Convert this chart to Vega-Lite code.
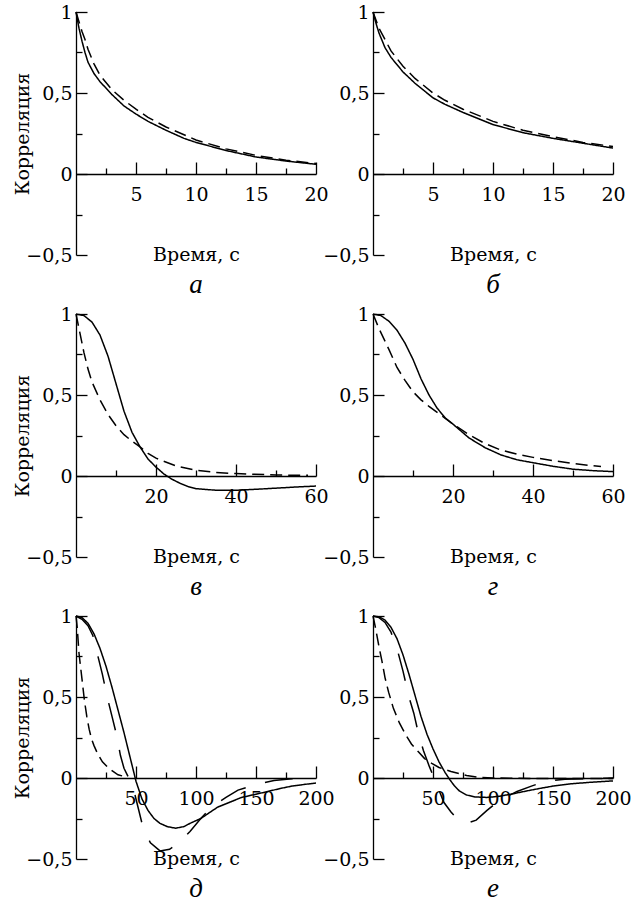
{
  "$schema": "https://vega.github.io/schema/vega-lite/v6.json",
  "background": "white",
  "padding": {"left": 13, "top": 3, "right": 0, "bottom": 0},
  "columns": 2,
  "spacing": {"row": 59, "column": 57},
  "bounds": "flush",
  "config": {
    "font": "DejaVu Serif",
    "view": {"stroke": null},
    "style": {"guide-label": {"font": "DejaVu Serif", "fontSize": 19}, "guide-title": {"font": "DejaVu Serif", "fontSize": 19}},
    "axis": {"grid": false, "domainColor": "black", "tickColor": "black", "labelColor": "black", "titleColor": "black",
      "labelFont": "DejaVu Serif", "titleFont": "DejaVu Serif", "labelFontSize": 19, "titleFontSize": 19,
      "titleFontWeight": "normal", "domainWidth": 1.3, "tickWidth": 1.3, "labelFlush": false, "labelOverlap": false, "labelAngle": 0},
    "title": {"font": "Times New Roman", "fontSize": 27, "fontStyle": "italic", "fontWeight": "normal", "orient": "bottom", "color": "black", "offset": 7, "anchor": "middle"},
    "line": {"color": "black", "strokeWidth": 1.5, "clip": false}
  },
  "datasets": {
    "a": [
      {"s":"solid","t":0,"r":1},{"s":"solid","t":0.25,"r":0.9},{"s":"solid","t":0.5,"r":0.82},{"s":"solid","t":0.75,"r":0.75},{"s":"solid","t":1,"r":0.69},{"s":"solid","t":1.5,"r":0.62},{"s":"solid","t":2,"r":0.57},{"s":"solid","t":3,"r":0.49},{"s":"solid","t":4,"r":0.42},{"s":"solid","t":5,"r":0.37},{"s":"solid","t":6,"r":0.325},{"s":"solid","t":7.5,"r":0.27},{"s":"solid","t":9,"r":0.22},{"s":"solid","t":10,"r":0.195},{"s":"solid","t":12.5,"r":0.145},{"s":"solid","t":15,"r":0.105},{"s":"solid","t":17.5,"r":0.08},{"s":"solid","t":20,"r":0.06},
      {"s":"dash","t":0,"r":1},{"s":"dash","t":0.5,"r":0.88},{"s":"dash","t":0.75,"r":0.83},{"s":"dash","t":1,"r":0.77},{"s":"dash","t":1.5,"r":0.68},{"s":"dash","t":2,"r":0.61},{"s":"dash","t":3,"r":0.52},{"s":"dash","t":4,"r":0.455},{"s":"dash","t":5,"r":0.4},{"s":"dash","t":6,"r":0.35},{"s":"dash","t":7.5,"r":0.29},{"s":"dash","t":10,"r":0.21},{"s":"dash","t":12.5,"r":0.155},{"s":"dash","t":15,"r":0.115},{"s":"dash","t":17.5,"r":0.085},{"s":"dash","t":20,"r":0.065}
    ],
    "b": [
      {"s":"solid","t":0,"r":1},{"s":"solid","t":0.25,"r":0.93},{"s":"solid","t":0.5,"r":0.87},{"s":"solid","t":1,"r":0.78},{"s":"solid","t":1.5,"r":0.72},{"s":"solid","t":2.5,"r":0.63},{"s":"solid","t":3.5,"r":0.56},{"s":"solid","t":5,"r":0.47},{"s":"solid","t":6,"r":0.43},{"s":"solid","t":7.5,"r":0.38},{"s":"solid","t":10,"r":0.305},{"s":"solid","t":12.5,"r":0.255},{"s":"solid","t":15,"r":0.22},{"s":"solid","t":17.5,"r":0.19},{"s":"solid","t":20,"r":0.16},
      {"s":"dash","t":0,"r":1},{"s":"dash","t":0.5,"r":0.9},{"s":"dash","t":1,"r":0.83},{"s":"dash","t":1.5,"r":0.76},{"s":"dash","t":2.5,"r":0.665},{"s":"dash","t":3.5,"r":0.59},{"s":"dash","t":5,"r":0.5},{"s":"dash","t":6,"r":0.455},{"s":"dash","t":7.5,"r":0.4},{"s":"dash","t":10,"r":0.325},{"s":"dash","t":12.5,"r":0.27},{"s":"dash","t":15,"r":0.23},{"s":"dash","t":17.5,"r":0.195},{"s":"dash","t":20,"r":0.17}
    ],
    "c": [
      {"s":"solid","t":0,"r":1},{"s":"solid","t":2,"r":0.99},{"s":"solid","t":4,"r":0.95},{"s":"solid","t":6,"r":0.87},{"s":"solid","t":8,"r":0.74},{"s":"solid","t":10,"r":0.57},{"s":"solid","t":12,"r":0.4},{"s":"solid","t":14,"r":0.27},{"s":"solid","t":16,"r":0.18},{"s":"solid","t":18,"r":0.105},{"s":"solid","t":20,"r":0.055},{"s":"solid","t":22,"r":0.012},{"s":"solid","t":24,"r":-0.02},{"s":"solid","t":26,"r":-0.045},{"s":"solid","t":28,"r":-0.065},{"s":"solid","t":30,"r":-0.078},{"s":"solid","t":35,"r":-0.088},{"s":"solid","t":40,"r":-0.088},{"s":"solid","t":45,"r":-0.082},{"s":"solid","t":50,"r":-0.075},{"s":"solid","t":55,"r":-0.068},{"s":"solid","t":60,"r":-0.062},
      {"s":"dash","t":0,"r":1},{"s":"dash","t":1,"r":0.88},{"s":"dash","t":2,"r":0.76},{"s":"dash","t":3,"r":0.66},{"s":"dash","t":4,"r":0.58},{"s":"dash","t":6,"r":0.47},{"s":"dash","t":8,"r":0.38},{"s":"dash","t":10,"r":0.31},{"s":"dash","t":12,"r":0.255},{"s":"dash","t":14,"r":0.215},{"s":"dash","t":16,"r":0.18},{"s":"dash","t":18,"r":0.14},{"s":"dash","t":20,"r":0.11},{"s":"dash","t":25,"r":0.062},{"s":"dash","t":30,"r":0.035},{"s":"dash","t":35,"r":0.022},{"s":"dash","t":40,"r":0.015},{"s":"dash","t":50,"r":0.006},{"s":"dash","t":58,"r":0.004}
    ],
    "d": [
      {"s":"solid","t":0,"r":1},{"s":"solid","t":2,"r":0.99},{"s":"solid","t":4,"r":0.955},{"s":"solid","t":6,"r":0.9},{"s":"solid","t":8,"r":0.82},{"s":"solid","t":10,"r":0.72},{"s":"solid","t":12,"r":0.6},{"s":"solid","t":14,"r":0.5},{"s":"solid","t":16,"r":0.42},{"s":"solid","t":18,"r":0.36},{"s":"solid","t":20,"r":0.32},{"s":"solid","t":24,"r":0.235},{"s":"solid","t":28,"r":0.175},{"s":"solid","t":32,"r":0.13},{"s":"solid","t":36,"r":0.1},{"s":"solid","t":40,"r":0.082},{"s":"solid","t":45,"r":0.06},{"s":"solid","t":50,"r":0.042},{"s":"solid","t":55,"r":0.033},{"s":"solid","t":60,"r":0.027},
      {"s":"dash","t":0,"r":1},{"s":"dash","t":1.5,"r":0.91},{"s":"dash","t":4,"r":0.78},{"s":"dash","t":6,"r":0.67},{"s":"dash","t":8,"r":0.59},{"s":"dash","t":10,"r":0.52},{"s":"dash","t":12,"r":0.47},{"s":"dash","t":14,"r":0.43},{"s":"dash","t":17,"r":0.375},{"s":"dash","t":20,"r":0.32},{"s":"dash","t":24,"r":0.255},{"s":"dash","t":28,"r":0.2},{"s":"dash","t":32,"r":0.16},{"s":"dash","t":36,"r":0.135},{"s":"dash","t":40,"r":0.115},{"s":"dash","t":45,"r":0.095},{"s":"dash","t":50,"r":0.077},{"s":"dash","t":57,"r":0.058}
    ],
    "e": [
      {"s":"solid","t":0,"r":1},{"s":"solid","t":5,"r":0.99},{"s":"solid","t":10,"r":0.955},{"s":"solid","t":15,"r":0.89},{"s":"solid","t":20,"r":0.8},{"s":"solid","t":25,"r":0.69},{"s":"solid","t":30,"r":0.56},{"s":"solid","t":35,"r":0.42},{"s":"solid","t":40,"r":0.28},{"s":"solid","t":45,"r":0.13},{"s":"solid","t":50,"r":-0.02},{"s":"solid","t":55,"r":-0.13},{"s":"solid","t":60,"r":-0.2},{"s":"solid","t":65,"r":-0.25},{"s":"solid","t":70,"r":-0.28},{"s":"solid","t":76,"r":-0.3},{"s":"solid","t":83,"r":-0.31},{"s":"solid","t":90,"r":-0.3},{"s":"solid","t":95,"r":-0.28},{"s":"solid","t":104,"r":-0.25},{"s":"solid","t":110,"r":-0.22},{"s":"solid","t":118,"r":-0.18},{"s":"solid","t":128,"r":-0.15},{"s":"solid","t":138,"r":-0.12},{"s":"solid","t":150,"r":-0.1},{"s":"solid","t":160,"r":-0.083},{"s":"solid","t":170,"r":-0.065},{"s":"solid","t":180,"r":-0.05},{"s":"solid","t":190,"r":-0.04},{"s":"solid","t":200,"r":-0.031},
      {"s":"dash","t":0,"r":1},{"s":"dash","t":1,"r":0.93},{"s":"dash","t":2.5,"r":0.77},{"s":"dash","t":5,"r":0.61},{"s":"dash","t":7,"r":0.48},{"s":"dash","t":9,"r":0.38},{"s":"dash","t":11,"r":0.3},{"s":"dash","t":13,"r":0.24},{"s":"dash","t":15,"r":0.2},{"s":"dash","t":18,"r":0.15},{"s":"dash","t":22,"r":0.1},{"s":"dash","t":26,"r":0.07},{"s":"dash","t":30,"r":0.045},{"s":"dash","t":35,"r":0.02},{"s":"dash","t":40,"r":0.01},
      {"s":"long","t":0,"r":1},{"s":"long","t":5,"r":0.98},{"s":"long","t":10,"r":0.94},{"s":"long","t":14,"r":0.88},{"s":"long","t":18,"r":0.76},{"s":"long","t":22,"r":0.64},{"s":"long","t":26,"r":0.5},{"s":"long","t":30,"r":0.38},{"s":"long","t":34,"r":0.26},{"s":"long","t":37,"r":0.14},{"s":"long","t":40,"r":0.06},{"s":"long","t":44,"r":0},{"s":"long","t":48,"r":-0.07},{"s":"long","t":52,"r":-0.19},{"s":"long","t":56,"r":-0.31},{"s":"long","t":62,"r":-0.4},{"s":"long","t":70,"r":-0.45},{"s":"long","t":78,"r":-0.44},{"s":"long","t":86,"r":-0.4},{"s":"long","t":95,"r":-0.33},{"s":"long","t":104,"r":-0.25},{"s":"long","t":113,"r":-0.18},{"s":"long","t":125,"r":-0.12},{"s":"long","t":135,"r":-0.075},{"s":"long","t":150,"r":-0.04},{"s":"long","t":165,"r":-0.015},{"s":"long","t":180,"r":-0.005},{"s":"long","t":190,"r":0}
    ],
    "f": [
      {"s":"solid","t":0,"r":1},{"s":"solid","t":5,"r":0.995},{"s":"solid","t":10,"r":0.975},{"s":"solid","t":15,"r":0.93},{"s":"solid","t":20,"r":0.86},{"s":"solid","t":25,"r":0.76},{"s":"solid","t":30,"r":0.64},{"s":"solid","t":35,"r":0.51},{"s":"solid","t":40,"r":0.38},{"s":"solid","t":45,"r":0.27},{"s":"solid","t":50,"r":0.18},{"s":"solid","t":55,"r":0.1},{"s":"solid","t":60,"r":0.035},{"s":"solid","t":64,"r":-0.01},{"s":"solid","t":68,"r":-0.05},{"s":"solid","t":72,"r":-0.08},{"s":"solid","t":78,"r":-0.105},{"s":"solid","t":85,"r":-0.117},{"s":"solid","t":95,"r":-0.12},{"s":"solid","t":105,"r":-0.113},{"s":"solid","t":115,"r":-0.1},{"s":"solid","t":128,"r":-0.08},{"s":"solid","t":140,"r":-0.063},{"s":"solid","t":150,"r":-0.05},{"s":"solid","t":165,"r":-0.036},{"s":"solid","t":180,"r":-0.027},{"s":"solid","t":200,"r":-0.018},
      {"s":"dash","t":0,"r":1},{"s":"dash","t":2,"r":0.93},{"s":"dash","t":5,"r":0.81},{"s":"dash","t":7.5,"r":0.72},{"s":"dash","t":10,"r":0.62},{"s":"dash","t":13,"r":0.53},{"s":"dash","t":17,"r":0.43},{"s":"dash","t":22,"r":0.34},{"s":"dash","t":27,"r":0.27},{"s":"dash","t":32,"r":0.21},{"s":"dash","t":38,"r":0.16},{"s":"dash","t":43,"r":0.12},{"s":"dash","t":49,"r":0.09},{"s":"dash","t":55,"r":0.065},{"s":"dash","t":65,"r":0.04},{"s":"dash","t":78,"r":0.015},{"s":"dash","t":90,"r":0.003},{"s":"dash","t":100,"r":0},{"s":"dash","t":130,"r":-0.003},{"s":"dash","t":200,"r":-0.003},
      {"s":"long","t":0,"r":1},{"s":"long","t":5,"r":0.99},{"s":"long","t":10,"r":0.96},{"s":"long","t":15,"r":0.9},{"s":"long","t":20,"r":0.8},{"s":"long","t":25,"r":0.66},{"s":"long","t":30,"r":0.5},{"s":"long","t":34,"r":0.4},{"s":"long","t":38,"r":0.27},{"s":"long","t":42,"r":0.17},{"s":"long","t":47,"r":0.07},{"s":"long","t":52,"r":-0.02},{"s":"long","t":59,"r":-0.15},{"s":"long","t":65,"r":-0.21},{"s":"long","t":71,"r":-0.26},{"s":"long","t":78,"r":-0.28},{"s":"long","t":86,"r":-0.26},{"s":"long","t":95,"r":-0.2},{"s":"long","t":105,"r":-0.14},{"s":"long","t":120,"r":-0.083},{"s":"long","t":132,"r":-0.05},{"s":"long","t":144,"r":-0.02},{"s":"long","t":160,"r":-0.008},{"s":"long","t":180,"r":-0.003},{"s":"long","t":200,"r":0}
    ]
  },
  "concat": [
    {
      "width": 240, "height": 243, "data": {"name": "a"}, "title": "а",
      "mark": {"type": "line"},
      "encoding": {
        "x": {"field": "t", "type": "quantitative", "scale": {"domain": [0, 20], "nice": false},
          "axis": {"labelFont": "DejaVu Serif", "titleFont": "DejaVu Serif", "labelFontSize": 19, "titleFontSize": 19, "values": [2.5,5,7.5,10,12.5,15,17.5,20], "labelExpr": "datum.value % 5 === 0 ? datum.label : ''",
            "tickSize": {"condition": {"test": "datum.value % 5 === 0", "value": -12}, "value": -6}, "labelPadding": 23, "offset": -81,
            "title": "Время, с", "titleX": 120, "titleY": 80, "titleBaseline": "middle", "titleAlign": "center"}},
        "y": {"field": "r", "type": "quantitative", "scale": {"domain": [-0.5, 1], "nice": false, "zero": false},
          "axis": {"labelFont": "DejaVu Serif", "titleFont": "DejaVu Serif", "labelFontSize": 19, "titleFontSize": 19, "values": [-0.5,-0.25,0,0.25,0.5,0.75,1], "labelExpr": "datum.value === 1 ? '1' : datum.value === 0.5 ? '0,5' : datum.value === 0 ? '0' : datum.value === -0.5 ? '−0,5' : ''",
            "tickSize": {"condition": {"test": "datum.value % 0.5 === 0", "value": -11}, "value": -6}, "labelPadding": 15,
            "title": "Корреляция", "titleX": -54, "titleY": 121.5, "titleAngle": -90, "titleBaseline": "middle", "titleAlign": "center"}},
        "strokeDash": {"field": "s", "type": "nominal", "scale": {"domain": ["solid", "dash", "long"], "range": [[1, 0], [12, 6], [28, 20]]}, "legend": null}
      }
    },
    {
      "width": 240, "height": 243, "data": {"name": "b"}, "title": "б",
      "mark": {"type": "line"},
      "encoding": {
        "x": {"field": "t", "type": "quantitative", "scale": {"domain": [0, 20], "nice": false},
          "axis": {"labelFont": "DejaVu Serif", "titleFont": "DejaVu Serif", "labelFontSize": 19, "titleFontSize": 19, "values": [2.5,5,7.5,10,12.5,15,17.5,20], "labelExpr": "datum.value % 5 === 0 ? datum.label : ''",
            "tickSize": {"condition": {"test": "datum.value % 5 === 0", "value": -12}, "value": -6}, "labelPadding": 23, "offset": -81,
            "title": "Время, с", "titleX": 120, "titleY": 80, "titleBaseline": "middle", "titleAlign": "center"}},
        "y": {"field": "r", "type": "quantitative", "scale": {"domain": [-0.5, 1], "nice": false, "zero": false},
          "axis": {"labelFont": "DejaVu Serif", "labelFontSize": 19, "values": [-0.5,-0.25,0,0.25,0.5,0.75,1], "labelExpr": "datum.value === 1 ? '1' : datum.value === 0.5 ? '0,5' : datum.value === 0 ? '0' : datum.value === -0.5 ? '−0,5' : ''",
            "tickSize": {"condition": {"test": "datum.value % 0.5 === 0", "value": -11}, "value": -6}, "labelPadding": 15, "title": null}},
        "strokeDash": {"field": "s", "type": "nominal", "scale": {"domain": ["solid", "dash", "long"], "range": [[1, 0], [12, 6], [28, 20]]}, "legend": null}
      }
    },
    {
      "width": 240, "height": 243, "data": {"name": "c"}, "title": "в",
      "mark": {"type": "line"},
      "encoding": {
        "x": {"field": "t", "type": "quantitative", "scale": {"domain": [0, 60], "nice": false},
          "axis": {"labelFont": "DejaVu Serif", "titleFont": "DejaVu Serif", "labelFontSize": 19, "titleFontSize": 19, "values": [10,20,30,40,50,60], "labelExpr": "datum.value % 20 === 0 ? datum.label : ''",
            "tickSize": {"condition": {"test": "datum.value % 20 === 0", "value": -12}, "value": -6}, "labelPadding": 23, "offset": -81,
            "title": "Время, с", "titleX": 120, "titleY": 80, "titleBaseline": "middle", "titleAlign": "center"}},
        "y": {"field": "r", "type": "quantitative", "scale": {"domain": [-0.5, 1], "nice": false, "zero": false},
          "axis": {"labelFont": "DejaVu Serif", "titleFont": "DejaVu Serif", "labelFontSize": 19, "titleFontSize": 19, "values": [-0.5,-0.25,0,0.25,0.5,0.75,1], "labelExpr": "datum.value === 1 ? '1' : datum.value === 0.5 ? '0,5' : datum.value === 0 ? '0' : datum.value === -0.5 ? '−0,5' : ''",
            "tickSize": {"condition": {"test": "datum.value % 0.5 === 0", "value": -11}, "value": -6}, "labelPadding": 15,
            "title": "Корреляция", "titleX": -54, "titleY": 121.5, "titleAngle": -90, "titleBaseline": "middle", "titleAlign": "center"}},
        "strokeDash": {"field": "s", "type": "nominal", "scale": {"domain": ["solid", "dash", "long"], "range": [[1, 0], [12, 6], [28, 20]]}, "legend": null}
      }
    },
    {
      "width": 240, "height": 243, "data": {"name": "d"}, "title": "г",
      "mark": {"type": "line"},
      "encoding": {
        "x": {"field": "t", "type": "quantitative", "scale": {"domain": [0, 60], "nice": false},
          "axis": {"labelFont": "DejaVu Serif", "titleFont": "DejaVu Serif", "labelFontSize": 19, "titleFontSize": 19, "values": [10,20,30,40,50,60], "labelExpr": "datum.value % 20 === 0 ? datum.label : ''",
            "tickSize": {"condition": {"test": "datum.value % 20 === 0", "value": -12}, "value": -6}, "labelPadding": 23, "offset": -81,
            "title": "Время, с", "titleX": 120, "titleY": 80, "titleBaseline": "middle", "titleAlign": "center"}},
        "y": {"field": "r", "type": "quantitative", "scale": {"domain": [-0.5, 1], "nice": false, "zero": false},
          "axis": {"labelFont": "DejaVu Serif", "labelFontSize": 19, "values": [-0.5,-0.25,0,0.25,0.5,0.75,1], "labelExpr": "datum.value === 1 ? '1' : datum.value === 0.5 ? '0,5' : datum.value === 0 ? '0' : datum.value === -0.5 ? '−0,5' : ''",
            "tickSize": {"condition": {"test": "datum.value % 0.5 === 0", "value": -11}, "value": -6}, "labelPadding": 15, "title": null}},
        "strokeDash": {"field": "s", "type": "nominal", "scale": {"domain": ["solid", "dash", "long"], "range": [[1, 0], [12, 6], [28, 20]]}, "legend": null}
      }
    },
    {
      "width": 240, "height": 243, "data": {"name": "e"}, "title": "д",
      "mark": {"type": "line"},
      "encoding": {
        "x": {"field": "t", "type": "quantitative", "scale": {"domain": [0, 200], "nice": false},
          "axis": {"labelFont": "DejaVu Serif", "titleFont": "DejaVu Serif", "labelFontSize": 19, "titleFontSize": 19, "values": [25,50,75,100,125,150,175,200], "labelExpr": "datum.value % 50 === 0 ? datum.label : ''",
            "tickSize": {"condition": {"test": "datum.value % 50 === 0", "value": -12}, "value": -6}, "labelPadding": 23, "offset": -81,
            "title": "Время, с", "titleX": 120, "titleY": 80, "titleBaseline": "middle", "titleAlign": "center"}},
        "y": {"field": "r", "type": "quantitative", "scale": {"domain": [-0.5, 1], "nice": false, "zero": false},
          "axis": {"labelFont": "DejaVu Serif", "titleFont": "DejaVu Serif", "labelFontSize": 19, "titleFontSize": 19, "values": [-0.5,-0.25,0,0.25,0.5,0.75,1], "labelExpr": "datum.value === 1 ? '1' : datum.value === 0.5 ? '0,5' : datum.value === 0 ? '0' : datum.value === -0.5 ? '−0,5' : ''",
            "tickSize": {"condition": {"test": "datum.value % 0.5 === 0", "value": -11}, "value": -6}, "labelPadding": 15,
            "title": "Корреляция", "titleX": -54, "titleY": 121.5, "titleAngle": -90, "titleBaseline": "middle", "titleAlign": "center"}},
        "strokeDash": {"field": "s", "type": "nominal", "scale": {"domain": ["solid", "dash", "long"], "range": [[1, 0], [12, 6], [28, 20]]}, "legend": null}
      }
    },
    {
      "width": 240, "height": 243, "data": {"name": "f"}, "title": "е",
      "mark": {"type": "line"},
      "encoding": {
        "x": {"field": "t", "type": "quantitative", "scale": {"domain": [0, 200], "nice": false},
          "axis": {"labelFont": "DejaVu Serif", "titleFont": "DejaVu Serif", "labelFontSize": 19, "titleFontSize": 19, "values": [25,50,75,100,125,150,175,200], "labelExpr": "datum.value % 50 === 0 ? datum.label : ''",
            "tickSize": {"condition": {"test": "datum.value % 50 === 0", "value": -12}, "value": -6}, "labelPadding": 23, "offset": -81,
            "title": "Время, с", "titleX": 120, "titleY": 80, "titleBaseline": "middle", "titleAlign": "center"}},
        "y": {"field": "r", "type": "quantitative", "scale": {"domain": [-0.5, 1], "nice": false, "zero": false},
          "axis": {"labelFont": "DejaVu Serif", "labelFontSize": 19, "values": [-0.5,-0.25,0,0.25,0.5,0.75,1], "labelExpr": "datum.value === 1 ? '1' : datum.value === 0.5 ? '0,5' : datum.value === 0 ? '0' : datum.value === -0.5 ? '−0,5' : ''",
            "tickSize": {"condition": {"test": "datum.value % 0.5 === 0", "value": -11}, "value": -6}, "labelPadding": 15, "title": null}},
        "strokeDash": {"field": "s", "type": "nominal", "scale": {"domain": ["solid", "dash", "long"], "range": [[1, 0], [12, 6], [28, 20]]}, "legend": null}
      }
    }
  ]
}
